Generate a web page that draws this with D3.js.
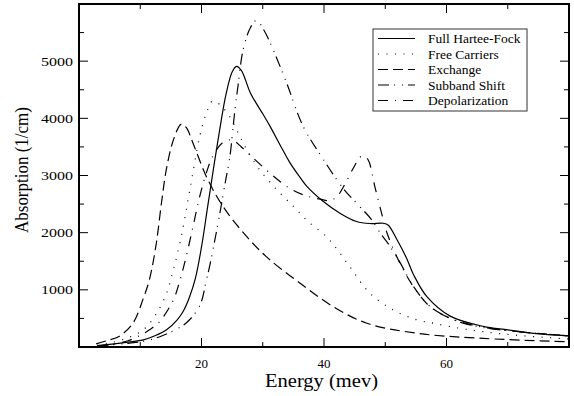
<!DOCTYPE html>
<html>
<head>
<meta charset="utf-8">
<script src="https://cdn.jsdelivr.net/npm/d3@7"></script>
<style>
  body { margin: 0; background: #fff; }
  text { font-family: "Liberation Serif", "DejaVu Serif", "Times New Roman", serif; }
  .tick-label { font-size: 13px; fill: #000; }
  .axis-title { font-size: 19px; fill: #000; }
  .legend-text { font-size: 13.5px; fill: #000; }
  .curve { fill: none; stroke: #000; stroke-width: 1.2; }
</style>
</head>
<body>
<svg id="chart"></svg>
<script>
const width = 574;
const height = 396;
const margin = { left: 79, right: 5, top: 4, bottom: 49 };
const serifFont = '"Liberation Serif", "DejaVu Serif", serif';

const xTicks = [20, 40, 60];
const yTicks = [1000, 2000, 3000, 4000, 5000];

// [energy (mev), absorption (1/cm)]
const fullHarteeFock = [
    [3, 25], [5, 45], [8, 85], [10.5, 125], [12.5, 200], [14.3, 300], [16, 470], [17, 620],
    [18, 860], [19, 1200], [20, 1750], [21, 2450], [22, 3150], [23, 3820], [24, 4420],
    [25, 4810], [25.7, 4910], [26.5, 4840], [28, 4440], [30, 4080], [31.2, 3860],
    [33, 3500], [34.4, 3230], [36, 2980], [37.2, 2810], [39.9, 2545], [42.6, 2340],
    [45.3, 2195], [47.5, 2160], [49.7, 2165], [50.5, 2130], [51.9, 1880], [53.5, 1550],
    [54.6, 1270], [56.8, 880], [60.6, 540], [66, 360], [70, 300], [74.2, 240], [80, 195]
];
const freeCarriers = [
    [3, 30], [5, 70], [7.7, 150], [10.5, 300], [12.6, 580], [14.3, 940], [15.4, 1350],
    [16.7, 1930], [18.1, 2750], [19.7, 3680], [20.8, 4090], [21.8, 4300], [23, 4240],
    [24.6, 4030], [26, 3740], [27.4, 3450], [29.5, 3100], [32.3, 2750], [35, 2460],
    [37.4, 2195], [40.4, 1930], [42.2, 1700], [44.2, 1406], [47.5, 940], [51.3, 648],
    [55, 480], [57.9, 415], [62, 330], [66, 268], [72, 200], [80, 140]
];
const exchange = [
    [2.8, 55], [4.5, 110], [6.6, 190], [8.8, 415], [10.5, 850], [11.5, 1180], [12.6, 1800],
    [13.5, 2550], [14.3, 3130], [15.5, 3650], [16.7, 3900], [17.5, 3840], [18.6, 3570],
    [20.8, 2980], [23.5, 2460], [27.4, 1930], [30.9, 1550], [36.1, 1116], [41.5, 706],
    [47, 415], [55.2, 240], [66, 150], [80, 90]
];
const subbandShift = [
    [3, 20], [5, 35], [8, 65], [10.5, 100], [13.2, 180], [15.5, 290], [17.5, 420],
    [19.7, 720], [20.8, 1173], [21.4, 1450], [23, 2340], [24, 2950], [24.6, 3300],
    [25.4, 4092], [26, 4600], [26.8, 5200], [28, 5590], [29, 5714], [30.2, 5540],
    [31.7, 5200], [33.9, 4618], [36.6, 3858], [39.6, 3330], [43.2, 2765], [45.3, 2517],
    [47.8, 2224], [49.2, 1991], [50.8, 1757], [52.4, 1480], [54.6, 1060], [57.3, 710],
    [60.6, 500], [63.3, 400], [66, 340], [72, 265], [80, 195]
];
const depolarization = [
    [3, 20], [5, 40], [8, 110], [9.9, 200], [11.5, 300], [13.2, 450], [15.4, 823],
    [16.5, 1173], [17.5, 1580], [18.6, 2100], [19.7, 2630], [20.8, 3050], [21.9, 3350],
    [23.5, 3580], [25, 3620], [26.5, 3500], [28.2, 3330], [31.2, 3040], [33.9, 2810],
    [36.6, 2662], [39.9, 2574], [41, 2560], [42.2, 2640], [43.2, 2807], [44.8, 3130],
    [45.9, 3322], [46.5, 3335], [47.2, 3275], [48.3, 2807], [49.4, 2341], [50.3, 1991],
    [52.4, 1465], [54.6, 1056], [57.3, 706], [60.6, 503], [63.3, 410], [66, 345],
    [72, 265], [80, 195]
];

const seriesNames = ['Full Hartee-Fock', 'Free Carriers', 'Exchange', 'Subband Shift', 'Depolarization'];
const seriesData = [fullHarteeFock, freeCarriers, exchange, subbandShift, depolarization];
const dashes = ['none', '1,7.5', '10,5', '11,5,1,7,1,5', '10,7,1,7'];

const svg = d3.select('#chart')
    .attr('width', width)
    .attr('height', height);

const x = d3.scaleLinear()
    .domain([0, 80])
    .range([margin.left, width - margin.right]);

const y = d3.scaleLinear()
    .domain([0, 6000])
    .range([height - margin.bottom, margin.top]);

svg.append('clipPath')
    .attr('id', 'plot-clip')
    .append('rect')
    .attr('x', x(0))
    .attr('y', y(6000))
    .attr('width', x(80) - x(0))
    .attr('height', y(0) - y(6000));

const line = d3.line()
    .x(d => x(d[0]))
    .y(d => y(d[1]))
    .curve(d3.curveCatmullRom.alpha(0.5));

const curves = svg.append('g').attr('clip-path', 'url(#plot-clip)');

seriesData.forEach((data, i) => {
    curves.append('path')
        .datum(data)
        .attr('class', 'curve')
        .attr('stroke-dasharray', dashes[i])
        .attr('d', line);
});

// ticks on all four sides, pointing inward
const xMinor = d3.range(10, 80, 10);
const yMinor = d3.range(500, 6000, 500);
const tickGroup = svg.append('g').attr('stroke', '#000').attr('stroke-width', 1);

xMinor.forEach(v => {
    const len = v % 20 === 0 ? 9 : 5;
    tickGroup.append('line')
        .attr('x1', x(v)).attr('x2', x(v))
        .attr('y1', y(0)).attr('y2', y(0) - len);
    tickGroup.append('line')
        .attr('x1', x(v)).attr('x2', x(v))
        .attr('y1', y(6000)).attr('y2', y(6000) + len);
});

yMinor.forEach(v => {
    const len = v % 1000 === 0 ? 9 : 5;
    tickGroup.append('line')
        .attr('x1', x(0)).attr('x2', x(0) + len)
        .attr('y1', y(v)).attr('y2', y(v));
    tickGroup.append('line')
        .attr('x1', x(80)).attr('x2', x(80) - len)
        .attr('y1', y(v)).attr('y2', y(v));
});

// frame
svg.append('rect')
    .attr('x', x(0))
    .attr('y', y(6000))
    .attr('width', x(80) - x(0))
    .attr('height', y(0) - y(6000))
    .attr('fill', 'none')
    .attr('stroke', '#000')
    .attr('stroke-width', 2);

// tick labels
svg.append('g').selectAll('text')
    .data(xTicks)
    .join('text')
    .attr('class', 'tick-label')
    .attr('font-family', serifFont)
    .attr('x', d => x(d))
    .attr('y', y(0) + 21)
    .attr('text-anchor', 'middle')
    .text(d => d);

// the picture's y labels are drawn a little wider than the x ones
svg.append('g').selectAll('text')
    .data(yTicks)
    .join('text')
    .attr('class', 'tick-label')
    .attr('font-family', serifFont)
    .attr('x', x(0) - 6)
    .attr('y', d => y(d) + 4.5)
    .attr('text-anchor', 'end')
    .attr('textLength', 32)
    .attr('lengthAdjust', 'spacingAndGlyphs')
    .text(d => d);

// axis titles
svg.append('text')
    .attr('class', 'axis-title')
    .attr('font-family', serifFont)
    .attr('x', 321.5)
    .attr('y', 387)
    .attr('text-anchor', 'middle')
    .attr('textLength', 113)
    .attr('lengthAdjust', 'spacingAndGlyphs')
    .text('Energy (mev)');

svg.append('text')
    .attr('class', 'axis-title')
    .attr('font-family', serifFont)
    .attr('transform', 'translate(28,170)rotate(-90)')
    .attr('text-anchor', 'middle')
    .attr('textLength', 126)
    .attr('lengthAdjust', 'spacingAndGlyphs')
    .text('Absorption (1/cm)');

// legend
const legend = svg.append('g').attr('transform', 'translate(373,29)');

legend.append('rect')
    .attr('width', 154)
    .attr('height', 82)
    .attr('fill', '#fff')
    .attr('stroke', '#333')
    .attr('stroke-width', 1);

seriesNames.forEach((name, i) => {
    const rowY = 9.5 + i * 15.5;
    legend.append('line')
        .attr('class', 'curve')
        .attr('x1', 5).attr('x2', 42)
        .attr('y1', rowY).attr('y2', rowY)
        .attr('stroke-dasharray', dashes[i]);
    legend.append('text')
        .attr('class', 'legend-text')
        .attr('font-family', serifFont)
        .attr('x', 55)
        .attr('y', rowY + 4.5)
        .text(name);
});
</script>
</body>
</html>
